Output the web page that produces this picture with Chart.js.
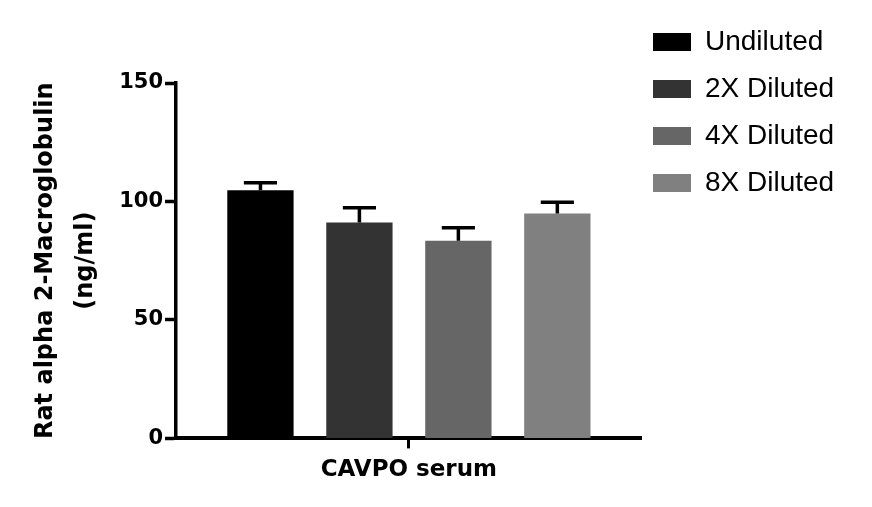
<!DOCTYPE html>
<html>
<head>
<meta charset="utf-8">
<script src="https://cdn.jsdelivr.net/npm/chart.js@4.4.1/dist/chart.umd.min.js"></script>
<style>
  html, body { margin: 0; padding: 0; background: #fff; }
  #wrap { width: 872px; height: 507px; position: relative; }
</style>
</head>
<body>
<div id="wrap"><canvas id="chart"></canvas></div>
<script>
const categories = ['CAVPO serum'];
const seriesNames = ['Undiluted', '2X Diluted', '4X Diluted', '8X Diluted'];
const means = [104.7, 91.1, 83.4, 94.9];
const errors = [3.2, 6.3, 5.5, 4.8];
const barColors = ['#000000', '#333333', '#666666', '#808080'];
const yTicks = [0, 50, 100, 150];

// upward-only error bars with a cap
const errorBars = {
    id: 'errorBars',
    afterDatasetsDraw(chart) {
        const ctx = chart.ctx;
        const y = chart.scales.y;
        ctx.save();
        ctx.strokeStyle = '#000';
        ctx.lineWidth = 3.5;
        chart.data.datasets.forEach((ds, i) => {
            const meta = chart.getDatasetMeta(i);
            meta.data.forEach((bar, j) => {
                const top = y.getPixelForValue(ds.data[j] + ds.errors[j]);
                const half = bar.width / 4;
                ctx.beginPath();
                ctx.moveTo(bar.x, bar.y);
                ctx.lineTo(bar.x, top);
                ctx.moveTo(bar.x - half, top);
                ctx.lineTo(bar.x + half, top);
                ctx.stroke();
            });
        });
        ctx.restore();
    }
};

// legend sits up in the top right corner, above the plot top
const moveLegend = {
    id: 'moveLegend',
    afterLayout(chart) {
        const lg = chart.legend;
        const dx = 634 - lg.left;
        const dy = 9 - lg.top;
        lg.left += dx; lg.right += dx;
        lg.top += dy; lg.bottom += dy;
    }
};

const datasets = seriesNames.map((name, i) => ({
    label: name,
    data: [means[i]],
    errors: [errors[i]],
    backgroundColor: barColors[i],
    borderWidth: 0,
    barPercentage: 0.67,
    categoryPercentage: 0.85
}));

new Chart(document.getElementById('chart'), {
    type: 'bar',
    data: { labels: categories, datasets: datasets },
    options: {
        responsive: true,
        maintainAspectRatio: false,
        animation: false,
        layout: { padding: { top: 83, left: 26, right: 25, bottom: 15 } },
        plugins: {
            tooltip: { enabled: false },
            legend: {
                position: 'right',
                align: 'start',
                labels: {
                    boxWidth: 38,
                    boxHeight: 18,
                    padding: 19,
                    color: '#000',
                    font: { family: 'Liberation Sans', size: 28 }
                }
            }
        },
        scales: {
            x: {
                grid: { drawOnChartArea: false, offset: false, color: '#000', tickLength: 10, tickWidth: 3 },
                border: { color: '#000', width: 4 },
                ticks: { color: '#000', padding: 8, font: { family: 'DejaVu Sans', size: 23, weight: 'bold' } }
            },
            y: {
                min: 0,
                max: 150,
                afterBuildTicks: (axis) => { axis.ticks = yTicks.map(v => ({ value: v })); },
                grid: { drawOnChartArea: false, color: '#000', tickLength: 11, tickWidth: 3.5 },
                border: { color: '#000', width: 3.5 },
                ticks: { color: '#000', padding: 2, font: { family: 'DejaVu Sans', size: 21, weight: 'bold' } },
                title: {
                    display: true,
                    text: ['Rat alpha 2-Macroglobulin', '(ng/ml)'],
                    color: '#000',
                    font: { family: 'DejaVu Sans', size: 24, weight: 'bold', lineHeight: 1.65 },
                    padding: { top: 0, bottom: 12 }
                }
            }
        }
    },
    plugins: [errorBars, moveLegend]
});
</script>
</body>
</html>
